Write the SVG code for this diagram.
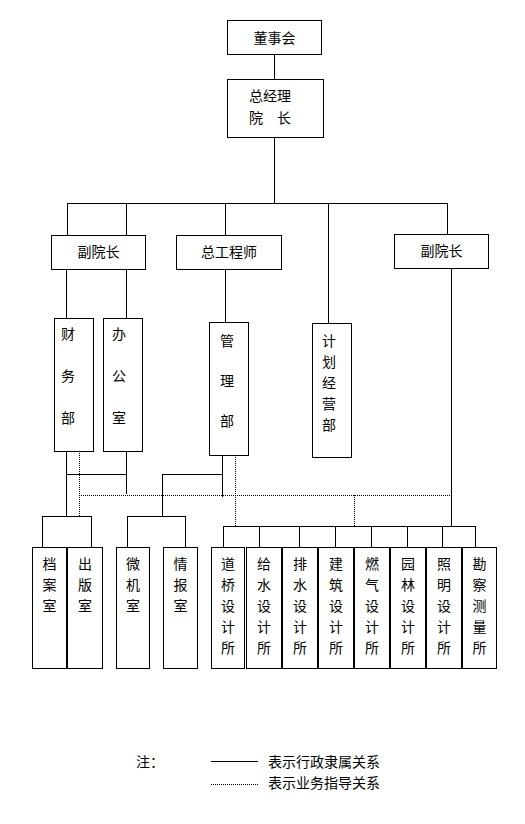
<svg xmlns="http://www.w3.org/2000/svg" width="525" height="824" viewBox="0 0 525 824">
<style>
rect{fill:#fff;stroke:#000;stroke-width:1}
text{font-family:"Noto Sans CJK SC","Noto Sans CJK JP",sans-serif;font-size:14px;fill:#000;text-anchor:middle;dominant-baseline:central}
.s{stroke:#000;stroke-width:1;fill:none}
.d{stroke:#000;stroke-width:1;fill:none;stroke-dasharray:1 1}
</style>
<rect x="0" y="0" width="525" height="824" style="stroke:none"/>
<g id="connectors">
<path class="s" d="M274.5 54V79M274.5 137V203M67 203.5H448M67.5 203V235M126.5 203V235M225.5 203V235M328.5 203V323M447.5 203V234"/>
<path class="s" d="M66.5 269V318M126.5 269V318M225.5 269V322M451.5 268V527"/>
<path class="s" d="M66.5 451V516M66 474.5H127M126.5 451V494M42 516.5H92M42.5 516V547M91.5 516V547"/>
<path class="s" d="M222.5 455V497M162 474.5H223M162.5 474V516M127 516.5H186M127.5 516V547M185.5 516V547"/>
<path class="s" d="M223 526.5H476M223.5 526V547M259.5 526V547M299.5 526V547M335.5 526V547M371.5 526V547M407.5 526V547M442.5 526V547M475.5 526V547"/>
<path class="d" d="M79.5 451V516M79 495.5H452M235.5 455V526M354.5 495V526"/>
</g>
<g id="n_board"><rect x="227.5" y="20.5" width="94" height="34"/><text x="274.5" y="37">董事会</text></g>
<g id="n_gm"><rect x="227.5" y="79.5" width="96" height="58"/><text x="270" y="95">总经理</text><text x="270" y="117">院　长</text></g>
<g id="n_vp1"><rect x="51.5" y="235.5" width="94" height="34"/><text x="98.5" y="251">副院长</text></g>
<g id="n_ce"><rect x="176.5" y="235.5" width="105" height="34"/><text x="229" y="251">总工程师</text></g>
<g id="n_vp2"><rect x="394.5" y="234.5" width="94" height="34"/><text x="441.5" y="250">副院长</text></g>
<g id="n_fin"><rect x="54.5" y="318.5" width="39" height="133"/><text x="68" y="333">财</text><text x="68" y="375">务</text><text x="68" y="417">部</text></g>
<g id="n_off"><rect x="103.5" y="318.5" width="39" height="133"/><text x="119" y="333">办</text><text x="119" y="375">公</text><text x="119" y="417">室</text></g>
<g id="n_mgmt"><rect x="209.5" y="322.5" width="39" height="133"/><text x="227" y="340">管</text><text x="227" y="380">理</text><text x="227" y="420">部</text></g>
<g id="n_plan"><rect x="312.5" y="323.5" width="39" height="134"/><text x="329" y="340">计</text><text x="329" y="361">划</text><text x="329" y="382">经</text><text x="329" y="403">营</text><text x="329" y="424">部</text></g>
<g id="n_arch"><rect x="32.5" y="547.5" width="34" height="121"/><text x="49.5" y="563">档</text><text x="49.5" y="584">案</text><text x="49.5" y="605">室</text></g>
<g id="n_pub"><rect x="67.5" y="547.5" width="35" height="121"/><text x="85" y="563">出</text><text x="85" y="584">版</text><text x="85" y="605">室</text></g>
<g id="n_comp"><rect x="116.5" y="547.5" width="33" height="121"/><text x="133" y="563">微</text><text x="133" y="584">机</text><text x="133" y="605">室</text></g>
<g id="n_info"><rect x="163.5" y="547.5" width="34" height="121"/><text x="180.5" y="563">情</text><text x="180.5" y="584">报</text><text x="180.5" y="605">室</text></g>
<g id="n_road"><rect x="211.5" y="547.5" width="33" height="121"/><text x="228" y="563">道</text><text x="228" y="584">桥</text><text x="228" y="605">设</text><text x="228" y="626">计</text><text x="228" y="647">所</text></g>
<g id="n_water"><rect x="246.5" y="547.5" width="35" height="121"/><text x="264" y="563">给</text><text x="264" y="584">水</text><text x="264" y="605">设</text><text x="264" y="626">计</text><text x="264" y="647">所</text></g>
<g id="n_drain"><rect x="282.5" y="547.5" width="35" height="121"/><text x="300" y="563">排</text><text x="300" y="584">水</text><text x="300" y="605">设</text><text x="300" y="626">计</text><text x="300" y="647">所</text></g>
<g id="n_build"><rect x="318.5" y="547.5" width="35" height="121"/><text x="336" y="563">建</text><text x="336" y="584">筑</text><text x="336" y="605">设</text><text x="336" y="626">计</text><text x="336" y="647">所</text></g>
<g id="n_gas"><rect x="354.5" y="547.5" width="35" height="121"/><text x="372" y="563">燃</text><text x="372" y="584">气</text><text x="372" y="605">设</text><text x="372" y="626">计</text><text x="372" y="647">所</text></g>
<g id="n_garden"><rect x="390.5" y="547.5" width="35" height="121"/><text x="408" y="563">园</text><text x="408" y="584">林</text><text x="408" y="605">设</text><text x="408" y="626">计</text><text x="408" y="647">所</text></g>
<g id="n_light"><rect x="426.5" y="547.5" width="35" height="121"/><text x="444" y="563">照</text><text x="444" y="584">明</text><text x="444" y="605">设</text><text x="444" y="626">计</text><text x="444" y="647">所</text></g>
<g id="n_survey"><rect x="462.5" y="547.5" width="34" height="121"/><text x="479.5" y="563">勘</text><text x="479.5" y="584">察</text><text x="479.5" y="605">测</text><text x="479.5" y="626">量</text><text x="479.5" y="647">所</text></g>
<g id="legend">
<text x="136" y="761" style="text-anchor:start">注：</text>
<path class="s" d="M211 761.5H258"/>
<path class="d" d="M211 784.5H258"/>
<text x="268" y="761" style="text-anchor:start">表示行政隶属关系</text>
<text x="268" y="782" style="text-anchor:start">表示业务指导关系</text>
</g>
</svg>
